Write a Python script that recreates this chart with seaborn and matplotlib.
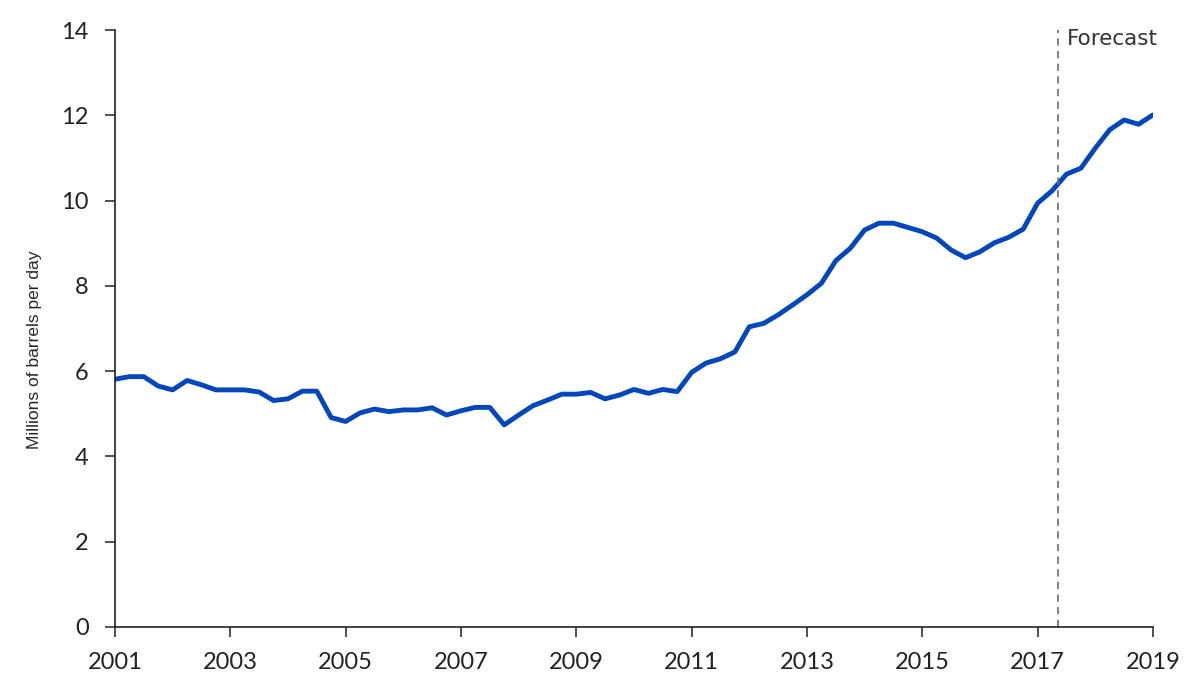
import numpy as np
import pandas as pd
import seaborn as sns
import matplotlib.pyplot as plt

sns.set_style("ticks")
plt.rcParams['font.family'] = ['Lato', 'DejaVu Sans']

# quarterly output, 2001 Q1 .. 2019 Q1
start_year = 2001
production = [5.81, 5.87, 5.87, 5.65, 5.56, 5.78, 5.68, 5.56, 5.56, 5.56,
              5.51, 5.31, 5.35, 5.53, 5.53, 4.91, 4.82, 5.02, 5.11, 5.05,
              5.09, 5.09, 5.14, 4.97, 5.07, 5.15, 5.15, 4.74, 4.97, 5.19,
              5.32, 5.46, 5.46, 5.50, 5.35, 5.44, 5.57, 5.48, 5.57, 5.52,
              5.97, 6.19, 6.29, 6.45, 7.04, 7.12, 7.32, 7.55, 7.79, 8.06,
              8.59, 8.88, 9.31, 9.47, 9.47, 9.37, 9.27, 9.12, 8.84, 8.66,
              8.80, 9.01, 9.14, 9.33, 9.94, 10.23, 10.62, 10.76, 11.23, 11.66,
              11.89, 11.79, 12.01]
forecast_start = 2017.35
year_ticks = list(range(2001, 2020, 2))
y_ticks = [0, 2, 4, 6, 8, 10, 12, 14]

df = pd.DataFrame({'year': start_year + np.arange(len(production)) * 0.25,
                   'mbd': production})

fig = plt.figure(figsize=(12, 6.92), dpi=100)
ax = fig.add_axes([0.0958, 0.094, 0.865, 0.8626])

sns.lineplot(data=df, x='year', y='mbd', ax=ax, color='#0047BB', linewidth=3.5)
ax.axvline(forecast_start, color='#777777', linestyle=(0, (4, 3)), linewidth=1.3)
ax.text(forecast_start + 0.15, 13.8, 'Forecast', fontsize=15.5,
        family=['DejaVu Sans'], color='#333333', ha='left', va='center')

ax.set_xlim(2001, 2019)
ax.set_ylim(0, 14)
ax.set_xticks(year_ticks)
ax.set_yticks(y_ticks)
ax.tick_params(axis='both', labelsize=17, length=7, width=1.1, colors='#222222')
ax.tick_params(axis='x', pad=11)
ax.tick_params(axis='y', pad=12)
ax.set_xlabel('')
ax.set_ylabel('Millions of barrels per day', fontsize=12.5, family=['Liberation Sans'])
ax.yaxis.set_label_coords(-0.07, 0.465)
for s in ['top', 'right']:
    ax.spines[s].set_visible(False)
for s in ['left', 'bottom']:
    ax.spines[s].set_color('#222222')
    ax.spines[s].set_linewidth(1.2)

plt.savefig('out.png', dpi=100)
